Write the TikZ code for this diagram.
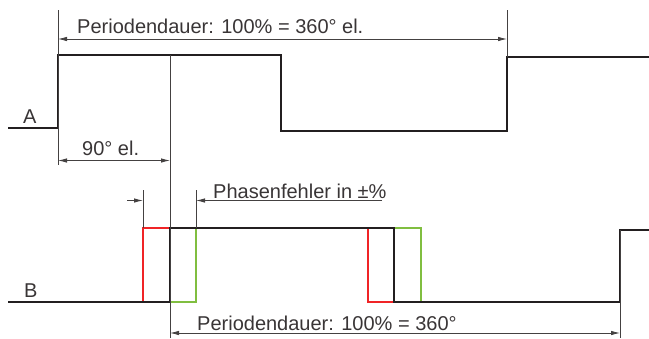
\documentclass[tikz,border=0pt]{standalone}
\usepackage{fontspec}
\setmainfont{Liberation Sans}
\usetikzlibrary{arrows.meta, positioning}
\definecolor{ink}{RGB}{35,31,32}
\definecolor{errred}{RGB}{240,36,38}
\definecolor{errgreen}{RGB}{128,190,64}

\begin{document}
\begin{tikzpicture}[x=1pt, y=-1pt, font=\fontsize{20}{24}\selectfont,
        every node/.style={text=ink!90, inner sep=0pt},
        signal/.style={line width=2.4pt, draw=ink},
        shifted/.style={line width=2pt},
        guide/.style={line width=0.8pt, draw=ink!85},
        dim/.style={guide, {Latex[length=9pt,width=4.5pt]}-{Latex[length=9pt,width=4.5pt]}},
        onedim/.style={guide, -{Latex[length=9pt,width=4.5pt]}}]
        \useasboundingbox (0,0) rectangle (649,338);

        % signal A
        \coordinate (a0) at (8,128);
        \coordinate (a1) at (58,128);
        \coordinate (a2) at (58,55);
        \coordinate (a3) at (281,55);
        \coordinate (a4) at (281,131);
        \coordinate (a5) at (507,131);
        \coordinate (a6) at (507,57);
        \coordinate (a7) at (649,57);
        \draw[signal] (a0) -- (a1) -- (a2) -- (a3) -- (a4) -- (a5) -- (a6) -- (a7);
        \node[anchor=base west] (lblA) at (23,123) {A};

        % signal B with phase error
        \coordinate (b0) at (8,302);
        \coordinate (b1) at (170,302);
        \coordinate (b2) at (170,228);
        \coordinate (b3) at (394,228);
        \coordinate (b4) at (394,302);
        \coordinate (b5) at (620,302);
        \coordinate (b6) at (620,230);
        \coordinate (b7) at (649,230);
        \coordinate (r1) at (143,302);
        \coordinate (r2) at (143,228);
        \coordinate (r3) at (368,228);
        \coordinate (r4) at (368,302);
        \coordinate (g1) at (196,302);
        \coordinate (g2) at (196,228);
        \coordinate (g3) at (421,228);
        \coordinate (g4) at (421,302);
        \draw[shifted, errred] (r1) -- (r2) -- (b2);
        \draw[shifted, errred] (r3) -- (r4) -- (b4);
        \draw[shifted, errgreen] (b1) -- (g1) -- (g2);
        \draw[shifted, errgreen] (b3) -- (g3) -- (g4);
        \draw[signal] (b0) -- (b1) -- (b2) -- (b3) -- (b4) -- (b5) -- (b6) -- (b7);
        \node[anchor=base west] (lblB) at (24,297) {B};

        % guide lines
        \coordinate (t1) at (58,10);
        \coordinate (t2) at (58,165);
        \coordinate (t3) at (507,10);
        \coordinate (q1) at (170,55);
        \coordinate (q2) at (170,338);
        \coordinate (p1) at (143,190);
        \coordinate (p2) at (196,190);
        \coordinate (u1) at (620,338);
        \draw[guide] (t1) -- (t2);
        \draw[guide] (t3) -- (a6);
        \draw[guide] (q1) -- (q2);
        \draw[guide] (p1) -- (r2);
        \draw[guide] (p2) -- (g2);
        \draw[guide] (b6) -- (u1);

        % dimensions
        \coordinate (d1) at (58,39);
        \coordinate (d2) at (507,39);
        \draw[dim] (d1) -- (d2);
        \node[anchor=base west] (perA) at (77,33) {Periodendauer: 100\% = 360° el.};

        \coordinate (e1) at (58,160.5);
        \coordinate (e2) at (170,160.5);
        \draw[dim] (e1) -- (e2);
        \node[anchor=base west] (quarter) at (82,155) {90° el.};

        \coordinate (f1) at (127,200.5);
        \coordinate (f2) at (143,200.5);
        \coordinate (f3) at (382,200.5);
        \coordinate (f4) at (196,200.5);
        \draw[onedim] (f1) -- (f2);
        \draw[onedim] (f3) -- (f4);
        \node[anchor=base west] (phase) at (213,198) {Phasenfehler in ±\%};

        \coordinate (h1) at (170,333);
        \coordinate (h2) at (620,333);
        \draw[dim] (h1) -- (h2);
        \node[anchor=base west] (perB) at (197,330) {Periodendauer: 100\% = 360°};
    \end{tikzpicture}
\end{document}
